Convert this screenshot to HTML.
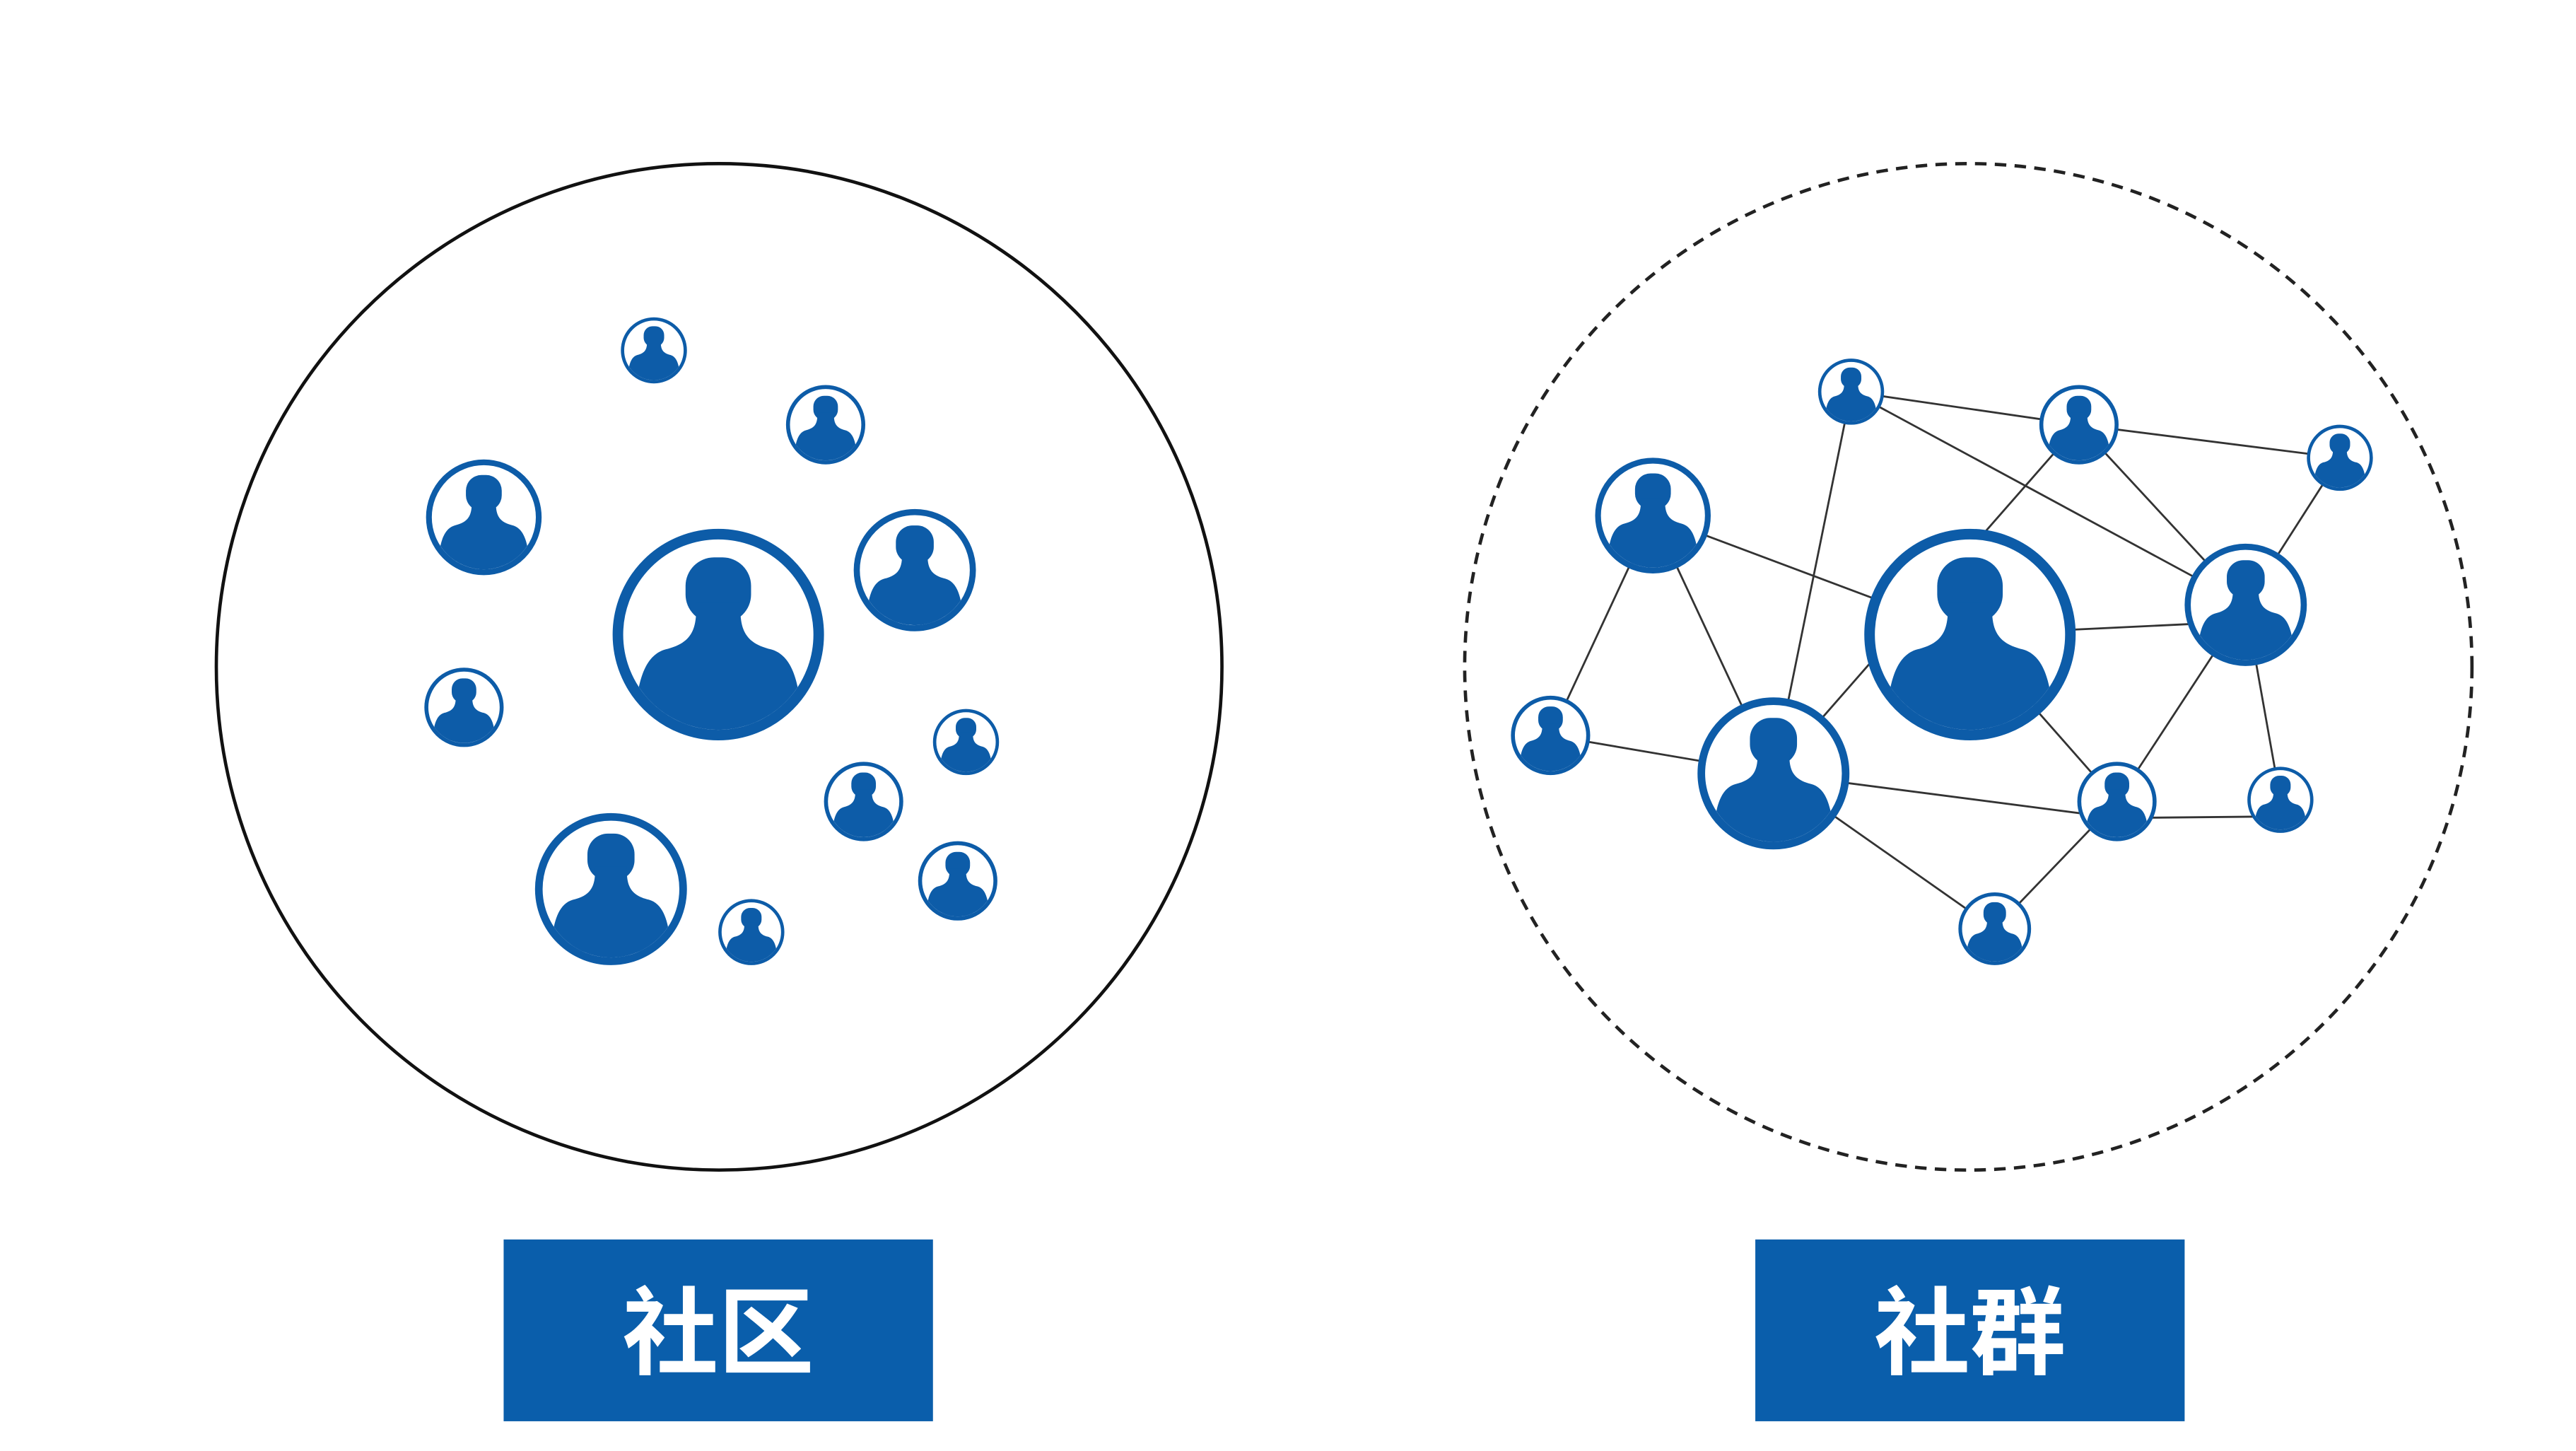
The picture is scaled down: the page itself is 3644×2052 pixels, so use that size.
<!DOCTYPE html>
<html><head><meta charset="utf-8"><style>
html,body{margin:0;padding:0;background:#fff;}
svg{display:block;}
</style></head><body>
<svg width="3644" height="2052" viewBox="0 0 1560 878" preserveAspectRatio="none" xmlns="http://www.w3.org/2000/svg">
<defs>
<clipPath id="cp"><circle cx="0" cy="0" r="90"/></clipPath>
<g id="ic">
<circle cx="0" cy="0" r="95" fill="#fff" stroke="#0d5ca8" stroke-width="10"/>
<g clip-path="url(#cp)" fill="#0d5ca8">
<rect x="-31" y="-73" width="62" height="62" rx="27"/>
<path d="M-21,-30 C-20,-5 -25,8 -50,14 C-68,19 -74,40 -77,60 L-77,100 L77,100 L77,60 C74,40 68,19 50,14 C25,8 20,-5 21,-30 Z"/>
</g>
</g>
</defs>
<ellipse cx="435.5" cy="403.5" rx="304.5" ry="304.5" fill="none" stroke="#111" stroke-width="2"/>
<ellipse cx="1192" cy="403.5" rx="305" ry="304.5" fill="none" stroke="#222" stroke-width="2" stroke-dasharray="7,5"/>
<g stroke="#333" stroke-width="1.2">
<line x1="1121" y1="237" x2="1259" y2="257"/>
<line x1="1121" y1="237" x2="1360" y2="366"/>
<line x1="1121" y1="237" x2="1074" y2="468"/>
<line x1="1259" y1="257" x2="1417" y2="277"/>
<line x1="1259" y1="257" x2="1360" y2="366"/>
<line x1="1259" y1="257" x2="1074" y2="468"/>
<line x1="1417" y1="277" x2="1360" y2="366"/>
<line x1="1001" y1="312" x2="1193" y2="384"/>
<line x1="1001" y1="312" x2="939" y2="445"/>
<line x1="1001" y1="312" x2="1074" y2="468"/>
<line x1="1193" y1="384" x2="1360" y2="376"/>
<line x1="1193" y1="384" x2="1282" y2="485"/>
<line x1="1360" y1="366" x2="1282" y2="485"/>
<line x1="1360" y1="366" x2="1381" y2="484"/>
<line x1="939" y1="445" x2="1074" y2="468"/>
<line x1="1074" y1="468" x2="1282" y2="495"/>
<line x1="1282" y1="495" x2="1381" y2="494"/>
<line x1="1282" y1="485" x2="1208" y2="562"/>
<line x1="1074" y1="468" x2="1208" y2="562"/>
</g>
<use href="#ic" transform="translate(396,212) scale(0.2)"/>
<use href="#ic" transform="translate(500,257) scale(0.24)"/>
<use href="#ic" transform="translate(293,313) scale(0.35)"/>
<use href="#ic" transform="translate(554,345) scale(0.37)"/>
<use href="#ic" transform="translate(435,384) scale(0.64)"/>
<use href="#ic" transform="translate(281,428) scale(0.24)"/>
<use href="#ic" transform="translate(585,449) scale(0.2)"/>
<use href="#ic" transform="translate(523,485) scale(0.24)"/>
<use href="#ic" transform="translate(370,538) scale(0.46)"/>
<use href="#ic" transform="translate(580,533) scale(0.24)"/>
<use href="#ic" transform="translate(455,564) scale(0.2)"/>
<use href="#ic" transform="translate(1121,237) scale(0.2)"/>
<use href="#ic" transform="translate(1259,257) scale(0.24)"/>
<use href="#ic" transform="translate(1417,277) scale(0.2)"/>
<use href="#ic" transform="translate(1001,312) scale(0.35)"/>
<use href="#ic" transform="translate(1193,384) scale(0.64)"/>
<use href="#ic" transform="translate(1360,366) scale(0.37)"/>
<use href="#ic" transform="translate(939,445) scale(0.24)"/>
<use href="#ic" transform="translate(1074,468) scale(0.46)"/>
<use href="#ic" transform="translate(1282,485) scale(0.24)"/>
<use href="#ic" transform="translate(1381,484) scale(0.2)"/>
<use href="#ic" transform="translate(1208,562) scale(0.22)"/>
<rect x="305" y="750" width="260" height="110" fill="#0a5eab"/>
<rect x="1063" y="750" width="260" height="110" fill="#0a5eab"/>
<g font-family="'Liberation Sans','Noto Sans CJK SC',sans-serif" font-size="58" font-weight="bold" fill="#fff" text-anchor="middle">
<text x="435" y="827">社区</text>
<text x="1193" y="827">社群</text>
</g>
</svg>
</body></html>
